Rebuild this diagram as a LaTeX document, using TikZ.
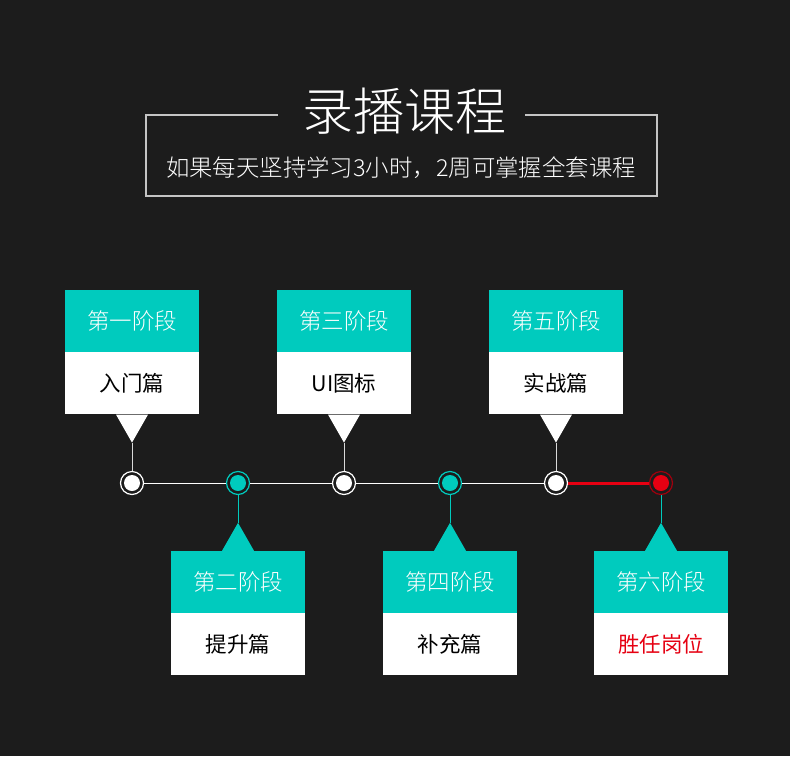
\documentclass[tikz,border=0pt]{standalone}
\usepackage{fontspec}
\setmainfont{Noto Sans CJK SC Light}
\newfontfamily\regfont{Noto Sans CJK SC}
\usetikzlibrary{positioning}

\definecolor{bgdark}{HTML}{1C1C1C}
\definecolor{tealc}{HTML}{00CBBE}
\definecolor{redc}{HTML}{E60012}
\definecolor{redring}{HTML}{A0000E}
\definecolor{framegray}{HTML}{C4C4C4}

\tikzset{
  head/.style={rectangle, fill=tealc, text=white, minimum width=134pt, minimum height=62pt,
    inner sep=0pt, font=\fontsize{22.5}{22.5}\selectfont},
  body/.style={rectangle, fill=white, text=black, minimum width=134pt, minimum height=62pt,
    inner sep=0pt, font=\regfont\fontsize{21.5}{21.5}\selectfont},
  dot/.style={circle, fill=bgdark, draw=#1, line width=1.2pt, minimum size=23pt, inner sep=0pt,
    path picture={\fill[#1] (path picture bounding box.center) circle (8pt);}},
  wdot/.style={dot=white},
  tdot/.style={dot=tealc},
}

\begin{document}
\begin{tikzpicture}[x=1pt, y=-1pt]
  \fill[bgdark] (0,0) rectangle (790,756);
  \useasboundingbox (0,0) rectangle (790,756);

  % Title and frame
  \node[text=white, font=\fontsize{51}{51}\selectfont] (title) at (404,111) {录播课程};
  \node[text=white, font=\fontsize{23.4}{23.4}\selectfont] (sub) at (401,168) {如果每天坚持学习3小时，2周可掌握全套课程};
  \draw[framegray, line width=1.3pt] (278,115) -- (146,115) -- (146,196) -- (657,196) -- (657,115) -- (525,115);

  % Timeline dots
  \node[wdot] (d1) at (132,483) {};
  \node[tdot] (d2) at (238,483) {};
  \node[wdot] (d3) at (344,483) {};
  \node[tdot] (d4) at (450,483) {};
  \node[wdot] (d5) at (556,483) {};
  \node[circle, fill=bgdark, draw=redring, line width=1.2pt, minimum size=23pt, inner sep=0pt,
    path picture={\fill[redc] (path picture bounding box.center) circle (8pt);}] (d6) at (661,483) {};

  \draw[white, line width=1pt] (d1) -- (d2) -- (d3) -- (d4) -- (d5);
  \draw[redc, line width=3pt] (d5) -- (d6);

  % Upper cards
  \node[head] (h1) at (132,321) {第一阶段};
  \node[body, below=0pt of h1] (b1) {入门篇};
  \node[head] (h3) at (344,321) {第三阶段};
  \node[body, below=0pt of h3] (b3) {UI图标};
  \node[head] (h5) at (556,321) {第五阶段};
  \node[body, below=0pt of h5] (b5) {实战篇};

  % Lower cards
  \node[head] (h2) at (238,582) {第二阶段};
  \node[body, below=0pt of h2] (b2) {提升篇};
  \node[head] (h4) at (450,582) {第四阶段};
  \node[body, below=0pt of h4] (b4) {补充篇};
  \node[head] (h6) at (661,582) {第六阶段};
  \node[body, below=0pt of h6, text=redc] (b6) {胜任岗位};

  % Pointers
  \foreach \b/\d in {b1/d1, b3/d3, b5/d5} {
    \coordinate (t\b) at ([yshift=-28pt]\b.south);
    \fill[white] ([xshift=-16pt]\b.south) -- ([xshift=16pt]\b.south) -- (t\b) -- cycle;
    \draw[white!85!black, line width=1pt] (t\b) -- (\d);
  }
  \foreach \h/\d in {h2/d2, h4/d4, h6/d6} {
    \coordinate (t\h) at ([yshift=28pt]\h.north);
    \fill[tealc] ([xshift=-16pt]\h.north) -- ([xshift=16pt]\h.north) -- (t\h) -- cycle;
    \draw[tealc, line width=1pt] (\d) -- (t\h);
  }
\end{tikzpicture}
\end{document}
